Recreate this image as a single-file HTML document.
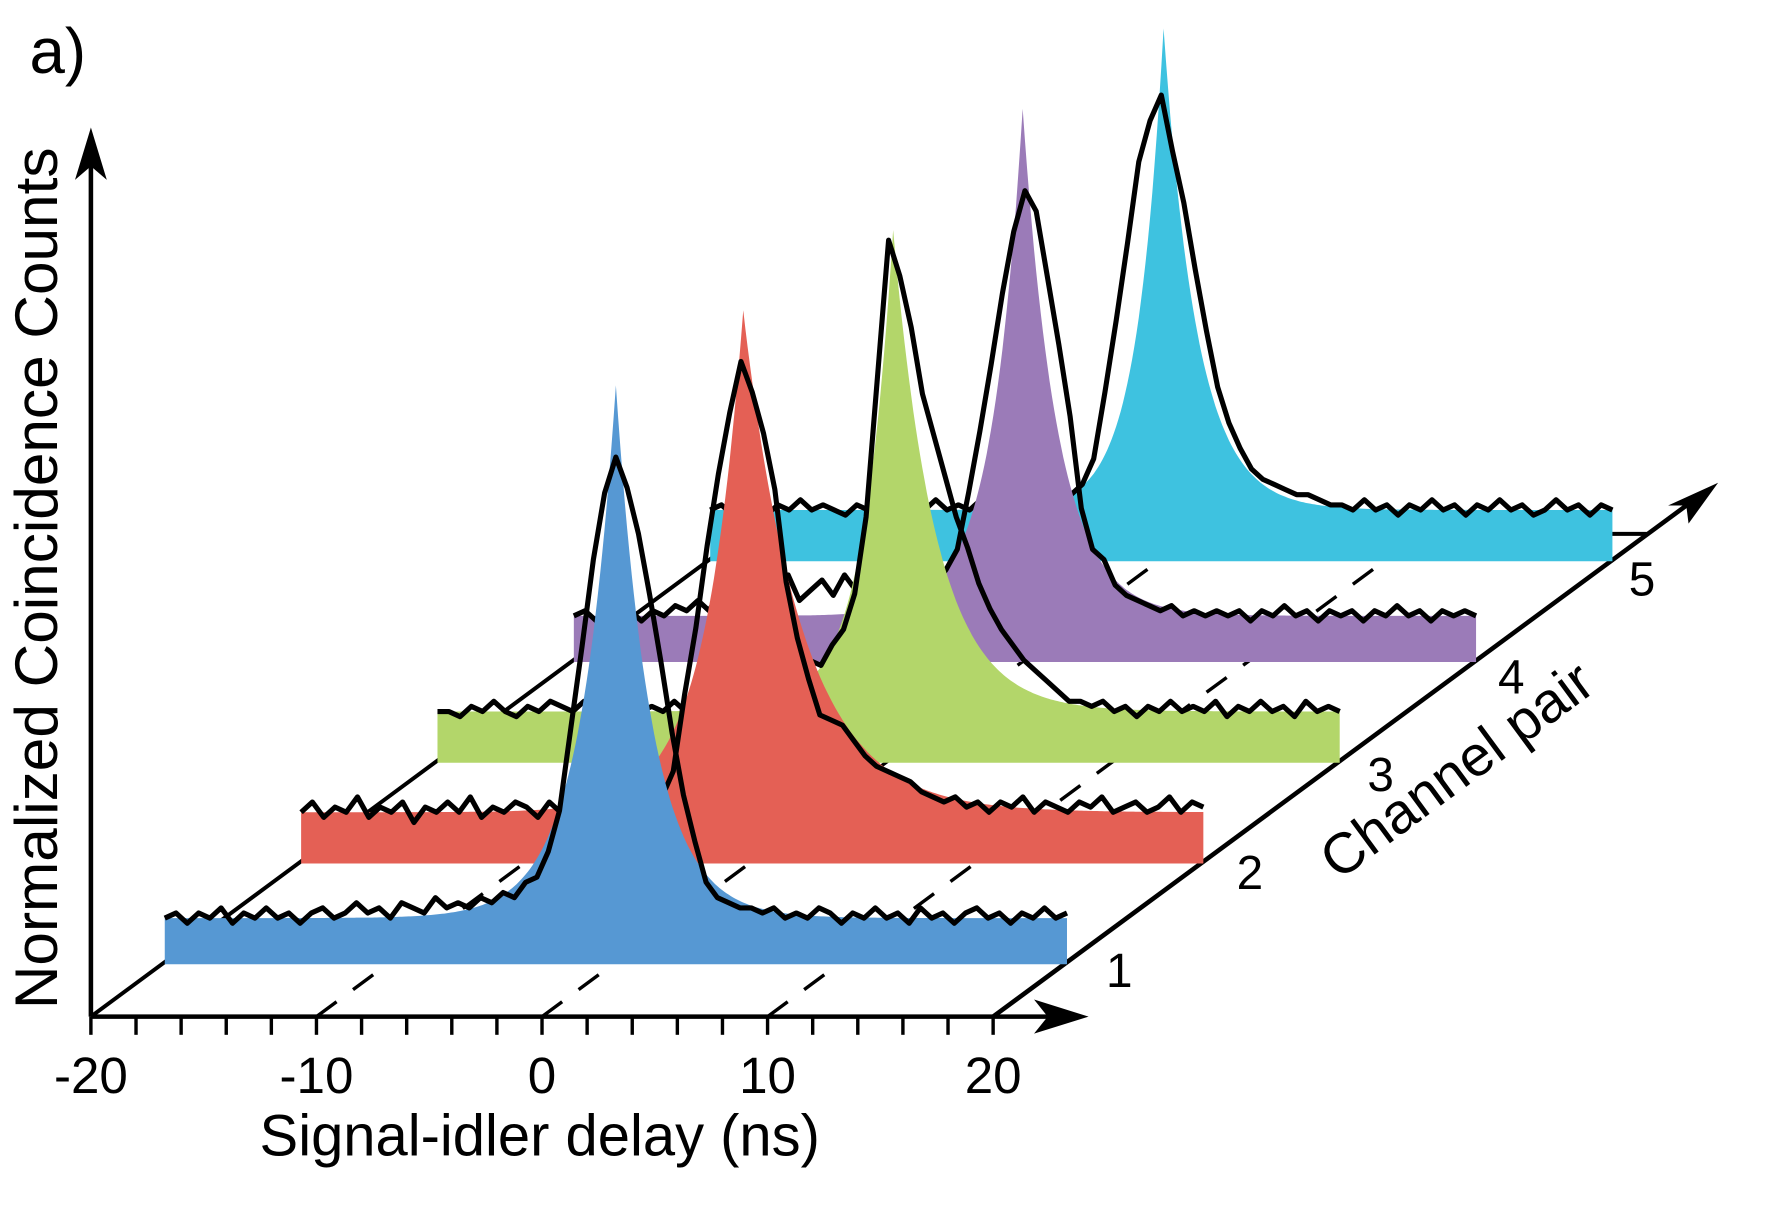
<!DOCTYPE html>
<html><head><meta charset="utf-8"><style>
html,body{margin:0;padding:0;background:#fff;}
svg{display:block;}
text{font-family:"Liberation Sans",sans-serif;fill:#000;}
</style></head><body>
<svg id="chart" width="1784" height="1209" viewBox="0 0 1570 1062" preserveAspectRatio="none" xmlns="http://www.w3.org/2000/svg">
<text x="26" y="64" font-size="56">a)</text>
<g id="axes"></g>
<g id="series"></g>
<text transform="translate(50,508) rotate(-90)" text-anchor="middle" font-size="53">Normalized Coincidence Counts</text>
<text x="475" y="1015" text-anchor="middle" font-size="51">Signal-idler delay (ns)</text>
<text transform="translate(1292,690) rotate(-36.4)" text-anchor="middle" font-size="50">Channel pair</text>
</svg>
<script>
const xTicks = [-20, -10, 0, 10, 20];
const channels = ["1", "2", "3", "4", "5"];
const ch1 = [0.09,0.10,0.08,0.10,0.09,0.11,0.08,0.10,0.09,0.11,0.09,0.10,0.08,0.10,0.11,0.09,0.10,0.12,0.10,0.11,0.09,0.12,0.11,0.10,0.13,0.11,0.12,0.11,
 0.13,0.12,0.14,0.13,0.16,0.17,0.22,0.30,0.46,0.62,0.79,0.92,0.99,0.93,0.84,0.72,0.59,0.45,0.33,0.24,0.16,0.13,0.12,0.11,0.11,0.10,0.11,0.09,0.10,
 0.09,0.11,0.10,0.08,0.10,0.09,0.11,0.09,0.10,0.08,0.11,0.09,0.10,0.08,0.10,0.11,0.09,0.10,0.08,0.10,0.09,0.11,0.09,0.10];
const ch2 = [0.10,0.12,0.09,0.11,0.10,0.13,0.09,0.11,0.10,0.12,0.08,0.11,0.10,0.12,0.10,0.13,0.09,0.11,0.10,0.12,0.11,0.09,0.12,0.10,0.11,0.13,0.10,0.12,
 0.11,0.12,0.10,0.12,0.13,0.18,0.33,0.46,0.62,0.76,0.88,0.98,0.92,0.84,0.73,0.55,0.44,0.36,0.29,0.28,0.27,0.24,0.21,0.19,0.18,0.17,0.16,0.14,0.13,
 0.12,0.13,0.11,0.12,0.10,0.12,0.11,0.13,0.10,0.12,0.11,0.10,0.12,0.11,0.13,0.10,0.11,0.12,0.10,0.11,0.13,0.10,0.12,0.11];
const ch3 = [0.10,0.10,0.09,0.11,0.10,0.12,0.10,0.09,0.11,0.10,0.12,0.11,0.10,0.12,0.10,0.11,0.09,0.12,0.10,0.11,0.10,0.12,0.10,0.11,0.13,0.10,0.12,0.11,0.13,
 0.12,0.15,0.18,0.14,0.20,0.19,0.23,0.26,0.33,0.48,0.75,1.02,0.95,0.85,0.72,0.64,0.56,0.48,0.42,0.35,0.30,0.26,0.23,0.20,0.18,0.16,0.14,0.12,0.12,
 0.11,0.12,0.10,0.11,0.09,0.11,0.10,0.12,0.10,0.11,0.10,0.12,0.09,0.11,0.10,0.12,0.10,0.11,0.09,0.12,0.10,0.11,0.10];
const ch4 = [0.09,0.10,0.08,0.11,0.09,0.10,0.08,0.10,0.09,0.11,0.10,0.12,0.10,0.14,0.11,0.15,0.12,0.16,0.13,0.17,0.12,0.14,0.16,0.13,0.17,0.14,0.16,0.13,
 0.14,0.17,0.16,0.13,0.15,0.18,0.22,0.33,0.45,0.58,0.72,0.84,0.92,0.88,0.75,0.62,0.48,0.30,0.22,0.20,0.15,0.13,0.12,0.11,0.10,0.11,0.09,0.10,0.09,
 0.10,0.09,0.10,0.08,0.10,0.09,0.11,0.09,0.10,0.08,0.10,0.09,0.10,0.08,0.10,0.09,0.11,0.09,0.10,0.08,0.10,0.09,0.10,0.09];
const ch5 = [0.10,0.11,0.09,0.10,0.12,0.09,0.11,0.10,0.12,0.10,0.11,0.10,0.09,0.11,0.10,0.12,0.10,0.11,0.09,0.10,0.12,0.10,0.11,0.10,0.12,0.10,0.11,0.10,
 0.10,0.11,0.10,0.12,0.13,0.15,0.20,0.33,0.47,0.62,0.78,0.86,0.91,0.80,0.70,0.57,0.45,0.34,0.27,0.22,0.18,0.16,0.15,0.14,0.13,0.13,0.12,0.11,0.11,
 0.10,0.12,0.10,0.11,0.09,0.11,0.10,0.12,0.10,0.11,0.09,0.11,0.10,0.12,0.10,0.11,0.09,0.10,0.12,0.10,0.11,0.09,0.11,0.10];
const fitAmp = [1.04, 0.98, 0.94, 0.99, 0.94];
const fitCenter = [0, -0.4, 0.2, -0.1, 0.1];
const fitTauL = [1.6, 1.7, 1.35, 1.4, 1.2];
const fitTauR = [1.6, 2.6, 1.9, 1.55, 1.5];
const fitFloor = [0.09, 0.10, 0.10, 0.09, 0.10];
const seriesData = [ch1, ch2, ch3, ch4, ch5];
const colors = ["#5698d3", "#e46055", "#b3d66a", "#9b7bb8", "#3ec2e0"];

const NS = "http://www.w3.org/2000/svg";
const PX_NS = 19.85, X0 = 80, Y0 = 893;
const DX = 120, DY = -88.5, OX = 65, OY = -46;
function xs(t){ return X0 + (t + 20) * PX_NS; }
function cx(t, k){ return xs(t) + OX + DX * k; }
function cy(v, k){ return Y0 + OY + DY * k - v * 450; }
function mk(tag, attrs, parent){ const e = document.createElementNS(NS, tag); for (const a in attrs) e.setAttribute(a, attrs[a]); parent.appendChild(e); return e; }

const axes = document.getElementById('axes');
const series = document.getElementById('series');
const BX = 575, BY = -424;
let l = mk('line', {x1:X0, y1:Y0, x2:X0+BX, y2:Y0+BY, stroke:'#000','stroke-width':3.5}, axes);


l = mk('line', {x1:X0+BX, y1:Y0+BY, x2:xs(20)+BX, y2:Y0+BY, stroke:'#000','stroke-width':3.5}, axes);


[-10, 0, 10].forEach(t => {
  const d = mk('line', {x1:xs(t), y1:Y0, x2:xs(t)+BX, y2:Y0+BY, stroke:'#000','stroke-width':3,'stroke-dasharray':'22 18'}, axes);
  
  
});
l = mk('line', {x1:X0, y1:Y0, x2:948, y2:Y0, stroke:'#000','stroke-width':4}, axes);


let a = mk('path', {d:'M958,893 L910,878 L922,893 L910,908 Z', fill:'#000'}, axes);


for (let t = -20; t <= 20; t += 2) {
  const tk = mk('line', {x1:xs(t), y1:Y0, x2:xs(t), y2:Y0+16, stroke:'#000','stroke-width':3}, axes);
  
  
}
xTicks.forEach(t => {
  const tx = mk('text', {x:xs(t), y:960, 'text-anchor':'middle','font-size':45}, axes);
  tx.textContent = t;
  
  
});
l = mk('line', {x1:X0, y1:Y0, x2:X0, y2:140, stroke:'#000','stroke-width':4}, axes);


a = mk('path', {d:'M80,112 L66,158 L80,146 L94,158 Z', fill:'#000'}, axes);


const ex = xs(20);
l = mk('line', {x1:ex, y1:Y0, x2:1495, y2:436, stroke:'#000','stroke-width':4}, axes);


a = mk('path', {d:'M1512,424 L1468,444 L1484,444 L1486,460 Z', fill:'#000'}, axes);


channels.forEach((c, k) => {
  const tx = mk('text', {x:985 + 115*k, y:867 - 86*k, 'text-anchor':'middle','font-size':42}, axes);
  tx.textContent = c;
  
  
});

function fitVal(t, k){
  const d = t - fitCenter[k];
  const tau = d < 0 ? fitTauL[k] : fitTauR[k];
  return fitFloor[k] + fitAmp[k] * Math.exp(-Math.abs(d) / tau);
}
for (let k = 4; k >= 0; k--) {
  let d = 'M' + cx(-20, k) + ',' + cy(0, k);
  for (let i = 0; i <= 400; i++) {
    const t = -20 + i * 0.1;
    d += ' L' + cx(t, k).toFixed(1) + ',' + cy(fitVal(t, k), k).toFixed(1);
  }
  d += ' L' + cx(20, k) + ',' + cy(0, k) + ' Z';
  const f = mk('path', {d:d, fill:colors[k]}, series);
  
  
  const vals = seriesData[k];
  const step = 40 / (vals.length - 1);
  let p = '';
  vals.forEach((v, i) => {
    const t = -20 + i * step;
    p += (i ? ' L' : 'M') + cx(t, k).toFixed(1) + ',' + cy(v, k).toFixed(1);
  });
  const ln = mk('path', {d:p, fill:'none', stroke:'#000','stroke-width':4.5,'stroke-linejoin':'round'}, series);
  
  
}
</script>
</body></html>
